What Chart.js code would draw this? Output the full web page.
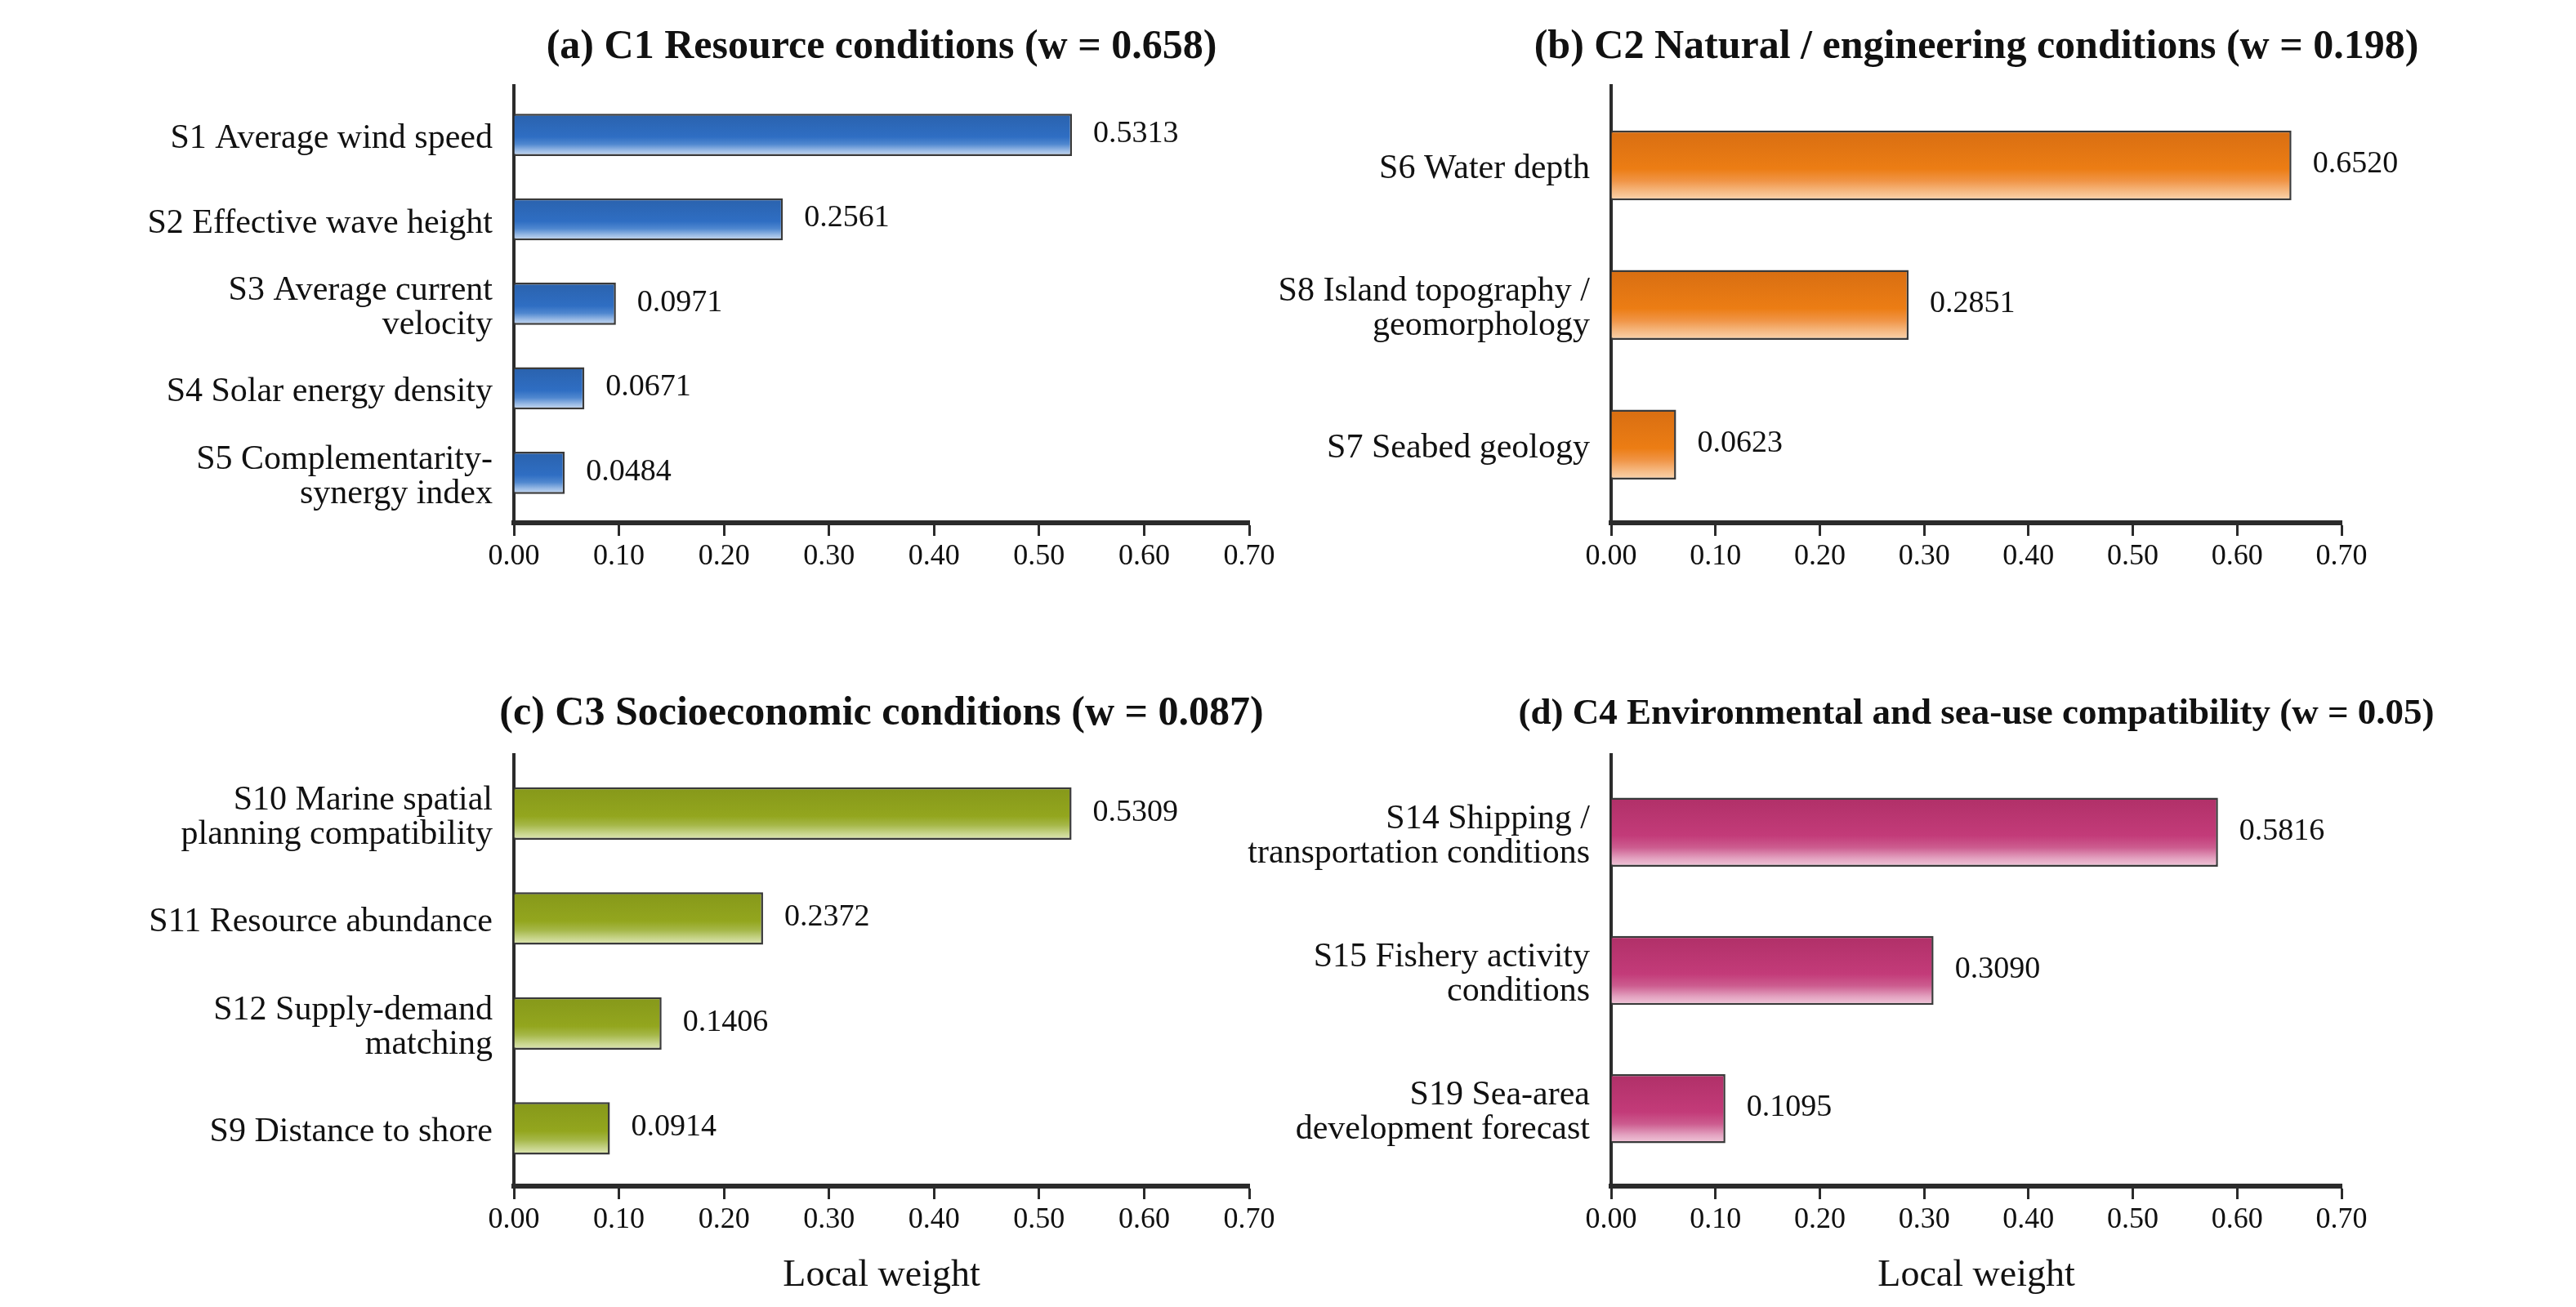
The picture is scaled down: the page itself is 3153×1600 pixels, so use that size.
<!DOCTYPE html>
<html>
<head>
<meta charset="utf-8">
<script src="https://cdn.jsdelivr.net/npm/chart.js@4.4.1/dist/chart.umd.min.js"></script>
<style>
  html, body { margin: 0; padding: 0; background: #fff; }
  body { width: 3153px; height: 1600px; position: relative; overflow: hidden; }
  .panel { position: absolute; }
</style>
</head>
<body>
<div class="panel" style="left:0;top:0;width:1600px;height:760px"><canvas id="ca"></canvas></div>
<div class="panel" style="left:1480px;top:0;width:1673px;height:760px"><canvas id="cb"></canvas></div>
<div class="panel" style="left:0;top:800px;width:1600px;height:800px"><canvas id="cc"></canvas></div>
<div class="panel" style="left:1480px;top:800px;width:1673px;height:800px"><canvas id="cd"></canvas></div>
<script>
// --- data ---
const titleA = '(a) C1 Resource conditions (w = 0.658)';
const titleB = '(b) C2 Natural / engineering conditions (w = 0.198)';
const titleC = '(c) C3 Socioeconomic conditions (w = 0.087)';
const titleD = '(d) C4 Environmental and sea-use compatibility (w = 0.05)';

const labelsA = ['S1 Average wind speed', 'S2 Effective wave height', ['S3 Average current', 'velocity'], 'S4 Solar energy density', ['S5 Complementarity-', 'synergy index']];
const valuesA = [0.5313, 0.2561, 0.0971, 0.0671, 0.0484];

const labelsB = ['S6 Water depth', ['S8 Island topography /', 'geomorphology'], 'S7 Seabed geology'];
const valuesB = [0.6520, 0.2851, 0.0623];

const labelsC = [['S10 Marine spatial', 'planning compatibility'], 'S11 Resource abundance', ['S12 Supply-demand', 'matching'], 'S9 Distance to shore'];
const valuesC = [0.5309, 0.2372, 0.1406, 0.0914];

const labelsD = [['S14 Shipping /', 'transportation conditions'], ['S15 Fishery activity', 'conditions'], ['S19 Sea-area', 'development forecast']];
const valuesD = [0.5816, 0.3090, 0.1095];

const xTickValues = [0, 0.1, 0.2, 0.3, 0.4, 0.5, 0.6, 0.7];
const xTitle = 'Local weight';

// gradient stops per colour (top -> bottom of bar)
const blueStops   = [[0, '#2a62ad'], [0.55, '#2f6ec3'], [0.72, '#4f87cf'], [0.88, '#9dbde6'], [1, '#c9dbf2']];
const orangeStops = [[0, '#d86e12'], [0.55, '#ec7d14'], [0.72, '#f09445'], [0.88, '#f6bb85'], [1, '#fbd5ae']];
const greenStops  = [[0, '#86981a'], [0.55, '#93a61e'], [0.72, '#a5b748'], [0.88, '#c8d58c'], [1, '#e0e8b8']];
const pinkStops   = [[0, '#b03068'], [0.55, '#c33b79'], [0.72, '#cc5c8f'], [0.88, '#e3a2c0'], [1, '#f2c9db']];

const SERIF = '"Liberation Serif", "Times New Roman", serif';
const INK = '#2b2b2b';

function barFill(stops) {
    return (ctx) => {
        const chart = ctx.chart;
        const ys = chart.scales && chart.scales.y;
        if (!chart.chartArea || !ys || ctx.type !== 'data') return stops[1][1];
        const yc = ys.getPixelForValue(ctx.dataIndex);
        const half = Math.abs(ys.getPixelForValue(1) - ys.getPixelForValue(0)) * 0.25;
        const g = chart.ctx.createLinearGradient(0, yc - half, 0, yc + half);
        stops.forEach(s => g.addColorStop(s[0], s[1]));
        return g;
    };
}

// panel title + value labels at bar ends
const panelDeco = {
    id: 'panelDeco',
    afterDatasetsDraw(chart, args, opts) {
        const { ctx, chartArea } = chart;
        ctx.save();
        ctx.fillStyle = '#111';
        ctx.font = 'bold ' + opts.titleSize + 'px ' + SERIF;
        ctx.textAlign = 'center';
        ctx.textBaseline = 'middle';
        ctx.fillText(opts.title, (chartArea.left + chartArea.right) / 2, chartArea.top - opts.titleGap);

        ctx.font = '38px ' + SERIF;
        ctx.textAlign = 'left';
        const ds = chart.data.datasets[0].data;
        chart.getDatasetMeta(0).data.forEach((bar, i) => {
            ctx.fillText(ds[i].x.toFixed(4), bar.x + 26, bar.y - 1);
        });
        ctx.restore();
    }
};

function makeChart(id, labels, values, stops, title, opts) {
    return new Chart(document.getElementById(id), {
        type: 'bar',
        data: {
            datasets: [{
                data: values.map((v, i) => ({ x: v, y: i })),
                backgroundColor: barFill(stops),
                borderColor: '#3a3a3a',
                borderWidth: 2.5,
                categoryPercentage: 1,
                barPercentage: 0.5
            }]
        },
        plugins: [panelDeco],
        options: {
            indexAxis: 'y',
            responsive: true,
            maintainAspectRatio: false,
            animation: false,
            layout: { padding: { top: opts.padTop, right: opts.padRight, left: 0, bottom: 0 } },
            scales: {
                x: {
                    type: 'linear',
                    min: 0,
                    max: 0.7,
                    afterBuildTicks: (s) => { s.ticks = xTickValues.map(v => ({ value: v })); },
                    afterFit: (s) => { s.height = opts.xHeight; },
                    grid: { drawOnChartArea: false, drawTicks: true, tickLength: 16, tickWidth: 3, tickColor: INK },
                    border: { display: true, width: 6, color: INK },
                    ticks: {
                        padding: 4,
                        color: '#111',
                        font: { family: SERIF, size: 36 },
                        callback: (v) => Number(v).toFixed(2)
                    },
                    title: {
                        display: opts.showTitle,
                        text: xTitle,
                        color: '#111',
                        font: { family: SERIF, size: 46 },
                        padding: { top: 0, bottom: 10 }
                    }
                },
                y: {
                    type: 'linear',
                    reverse: true,
                    offset: false,
                    min: opts.yMin,
                    max: labels.length - 1 + opts.yPadEnd,
                    afterBuildTicks: (s) => { s.ticks = labels.map((l, i) => ({ value: i })); },
                    afterFit: (s) => { s.width = opts.yWidth; },
                    grid: { display: true, offset: false, drawOnChartArea: false, drawTicks: false },
                    border: { display: true, width: 4, color: INK },
                    ticks: {
                        padding: 26,
                        labelOffset: 5,
                        color: '#111',
                        font: { family: SERIF, size: 42, lineHeight: 1.0 },
                        callback: (v) => labels[v]
                    }
                }
            },
            plugins: {
                legend: { display: false },
                tooltip: { enabled: false },
                panelDeco: { title: title, titleGap: opts.titleGap, titleSize: opts.titleSize }
            }
        }
    });
}

makeChart('ca', labelsA, valuesA, blueStops, titleA,
    { padTop: 105, padRight: 71, xHeight: 120, yWidth: 629, yMin: -0.58, yPadEnd: 0.59, showTitle: false, titleGap: 47, titleSize: 50 });
makeChart('cb', labelsB, valuesB, orangeStops, titleB,
    { padTop: 105, padRight: 287, xHeight: 120, yWidth: 492, yMin: -0.57, yPadEnd: 0.56, showTitle: false, titleGap: 47, titleSize: 50 });
makeChart('cc', labelsC, valuesC, greenStops, titleC,
    { padTop: 124, padRight: 71, xHeight: 148, yWidth: 629, yMin: -0.56, yPadEnd: 0.55, showTitle: true, titleGap: 50, titleSize: 50 });
makeChart('cd', labelsD, valuesD, pinkStops, titleD,
    { padTop: 124, padRight: 287, xHeight: 148, yWidth: 492, yMin: -0.56, yPadEnd: 0.56, showTitle: true, titleGap: 50, titleSize: 45 });
</script>
</body>
</html>
